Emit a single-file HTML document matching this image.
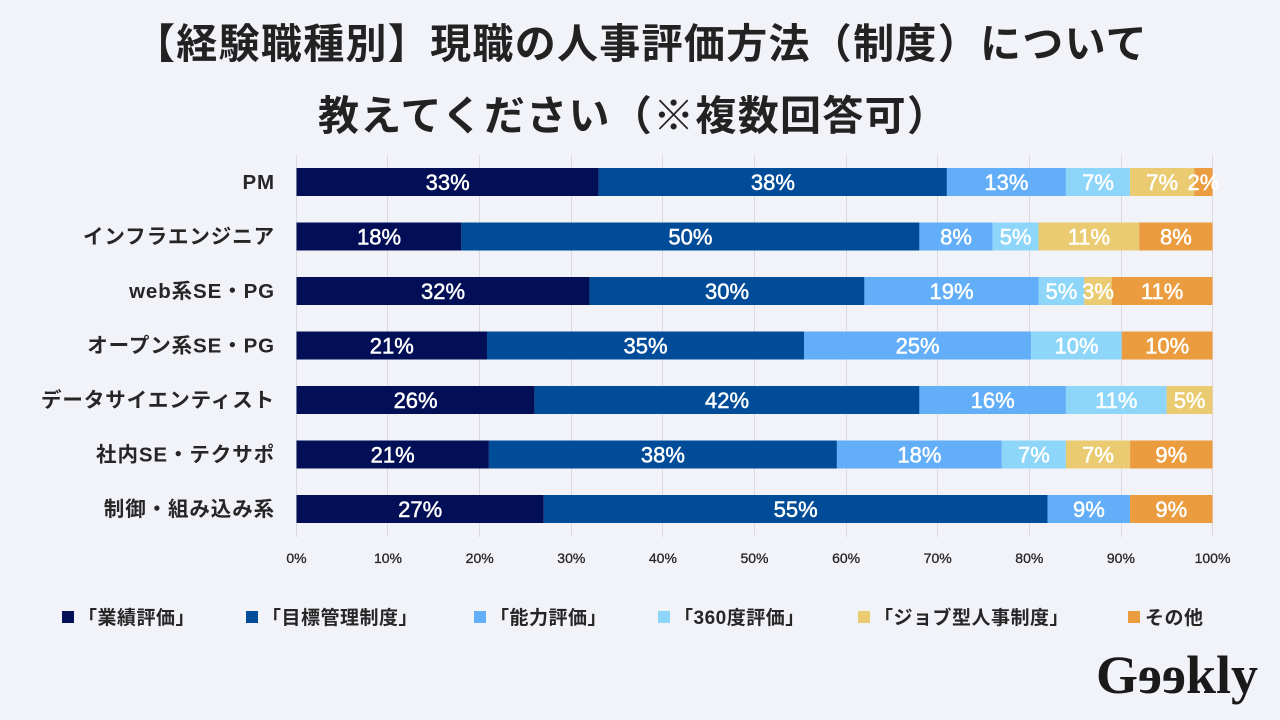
<!DOCTYPE html>
<html lang="ja">
<head>
<meta charset="utf-8">
<style>
  html, body { margin: 0; padding: 0; background: #f2f3f8; }
  body { width: 1280px; height: 720px; overflow: hidden; }
  svg { display: block; }
  .ttl { font-family: "Liberation Sans", "Noto Sans CJK JP", sans-serif; font-weight: 700; font-size: 41px; fill: #222; letter-spacing: 1.3px; }
  .cat { font-family: "Liberation Sans", "Noto Sans CJK JP", sans-serif; font-weight: 700; font-size: 20.5px; fill: #262626; text-anchor: end; letter-spacing: 0.9px; }
  .dl { font-family: "Liberation Sans", "Noto Sans CJK JP", sans-serif; font-size: 22px; fill: #fff; stroke: #fff; stroke-width: 0.5px; text-anchor: middle; }
  .tk { font-family: "Liberation Sans", "Noto Sans CJK JP", sans-serif; font-size: 14px; fill: #262626; stroke: #262626; stroke-width: 0.3px; text-anchor: middle; }
  .lg { font-family: "Liberation Sans", "Noto Sans CJK JP", sans-serif; font-weight: 700; font-size: 19px; fill: #262626; letter-spacing: 0.5px; }
  .logo { font-family: "Liberation Serif", "DejaVu Serif", serif; font-weight: 700; font-size: 54px; fill: #1a1a1a; }
</style>
</head>
<body>
<svg width="1280" height="720" viewBox="0 0 1280 720" xmlns="http://www.w3.org/2000/svg">
  <rect x="0" y="0" width="1280" height="720" fill="#f2f3f8"/>

  <!-- Title -->
  <text class="ttl" x="134" y="58">【経験職種別】現職の人事評価方法（制度）について</text>
  <text class="ttl" x="318" y="130">教えてください（※複数回答可）</text>

  <!-- Gridlines -->
  <g stroke="#d9d9de" stroke-width="1">
    <line x1="296.5" y1="155" x2="296.5" y2="537"/>
    <line x1="387.5" y1="155" x2="387.5" y2="537"/>
    <line x1="479.5" y1="155" x2="479.5" y2="537"/>
    <line x1="571.5" y1="155" x2="571.5" y2="537"/>
    <line x1="662.5" y1="155" x2="662.5" y2="537"/>
    <line x1="754.5" y1="155" x2="754.5" y2="537"/>
    <line x1="846.5" y1="155" x2="846.5" y2="537"/>
    <line x1="937.5" y1="155" x2="937.5" y2="537"/>
    <line x1="1029.5" y1="155" x2="1029.5" y2="537"/>
    <line x1="1121.5" y1="155" x2="1121.5" y2="537"/>
    <line x1="1212.5" y1="155" x2="1212.5" y2="537"/>
  </g>

  <!-- Row 1: PM -->
  <g>
    <rect x="296.5" y="168" width="302.3" height="28" fill="#020f57"/>
    <rect x="598.8" y="168" width="348.1" height="28" fill="#004c98"/>
    <rect x="946.9" y="168" width="119" height="28" fill="#63aef8"/>
    <rect x="1065.9" y="168" width="64.2" height="28" fill="#8ed6f9"/>
    <rect x="1130.1" y="168" width="64.1" height="28" fill="#ebcb71"/>
    <rect x="1194.2" y="168" width="18.3" height="28" fill="#ea9c3f"/>
    <text class="dl" x="447.7" y="190">33%</text>
    <text class="dl" x="772.9" y="190">38%</text>
    <text class="dl" x="1006.4" y="190">13%</text>
    <text class="dl" x="1098" y="190">7%</text>
    <text class="dl" x="1162.2" y="190">7%</text>
    <text class="dl" x="1203.4" y="190">2%</text>
  </g>

  <!-- Row 2 -->
  <g>
    <rect x="296.5" y="222.5" width="164.9" height="28" fill="#020f57"/>
    <rect x="461.4" y="222.5" width="458" height="28" fill="#004c98"/>
    <rect x="919.4" y="222.5" width="73.3" height="28" fill="#63aef8"/>
    <rect x="992.7" y="222.5" width="45.8" height="28" fill="#8ed6f9"/>
    <rect x="1038.5" y="222.5" width="100.7" height="28" fill="#ebcb71"/>
    <rect x="1139.2" y="222.5" width="73.3" height="28" fill="#ea9c3f"/>
    <text class="dl" x="379" y="244.5">18%</text>
    <text class="dl" x="690.4" y="244.5">50%</text>
    <text class="dl" x="956" y="244.5">8%</text>
    <text class="dl" x="1015.6" y="244.5">5%</text>
    <text class="dl" x="1088.9" y="244.5">11%</text>
    <text class="dl" x="1175.9" y="244.5">8%</text>
  </g>

  <!-- Row 3 -->
  <g>
    <rect x="296.5" y="277" width="293.1" height="28" fill="#020f57"/>
    <rect x="589.6" y="277" width="274.8" height="28" fill="#004c98"/>
    <rect x="864.4" y="277" width="174.1" height="28" fill="#63aef8"/>
    <rect x="1038.5" y="277" width="45.8" height="28" fill="#8ed6f9"/>
    <rect x="1084.3" y="277" width="27.4" height="28" fill="#ebcb71"/>
    <rect x="1111.7" y="277" width="100.8" height="28" fill="#ea9c3f"/>
    <text class="dl" x="443" y="299">32%</text>
    <text class="dl" x="727" y="299">30%</text>
    <text class="dl" x="951.5" y="299">19%</text>
    <text class="dl" x="1061.4" y="299">5%</text>
    <text class="dl" x="1098" y="299">3%</text>
    <text class="dl" x="1162.1" y="299">11%</text>
  </g>

  <!-- Row 4 -->
  <g>
    <rect x="296.5" y="331.5" width="190.5" height="28" fill="#020f57"/>
    <rect x="487" y="331.5" width="317" height="28" fill="#004c98"/>
    <rect x="804" y="331.5" width="227.1" height="28" fill="#63aef8"/>
    <rect x="1031.1" y="331.5" width="90.7" height="28" fill="#8ed6f9"/>
    <rect x="1121.8" y="331.5" width="90.7" height="28" fill="#ea9c3f"/>
    <text class="dl" x="391.8" y="353.5">21%</text>
    <text class="dl" x="645.5" y="353.5">35%</text>
    <text class="dl" x="917.6" y="353.5">25%</text>
    <text class="dl" x="1076.5" y="353.5">10%</text>
    <text class="dl" x="1167.2" y="353.5">10%</text>
  </g>

  <!-- Row 5 -->
  <g>
    <rect x="296.5" y="386" width="238.2" height="28" fill="#020f57"/>
    <rect x="534.7" y="386" width="384.7" height="28" fill="#004c98"/>
    <rect x="919.4" y="386" width="146.5" height="28" fill="#63aef8"/>
    <rect x="1065.9" y="386" width="100.8" height="28" fill="#8ed6f9"/>
    <rect x="1166.7" y="386" width="45.8" height="28" fill="#ebcb71"/>
    <text class="dl" x="415.6" y="408">26%</text>
    <text class="dl" x="727" y="408">42%</text>
    <text class="dl" x="992.7" y="408">16%</text>
    <text class="dl" x="1116.3" y="408">11%</text>
    <text class="dl" x="1189.6" y="408">5%</text>
  </g>

  <!-- Row 6 -->
  <g>
    <rect x="296.5" y="440.5" width="192.4" height="28" fill="#020f57"/>
    <rect x="488.9" y="440.5" width="348" height="28" fill="#004c98"/>
    <rect x="836.9" y="440.5" width="164.9" height="28" fill="#63aef8"/>
    <rect x="1001.8" y="440.5" width="64.1" height="28" fill="#8ed6f9"/>
    <rect x="1065.9" y="440.5" width="64.2" height="28" fill="#ebcb71"/>
    <rect x="1130.1" y="440.5" width="82.4" height="28" fill="#ea9c3f"/>
    <text class="dl" x="392.7" y="462.5">21%</text>
    <text class="dl" x="662.9" y="462.5">38%</text>
    <text class="dl" x="919.4" y="462.5">18%</text>
    <text class="dl" x="1033.9" y="462.5">7%</text>
    <text class="dl" x="1098" y="462.5">7%</text>
    <text class="dl" x="1171.3" y="462.5">9%</text>
  </g>

  <!-- Row 7 -->
  <g>
    <rect x="296.5" y="495" width="247.3" height="28" fill="#020f57"/>
    <rect x="543.8" y="495" width="503.8" height="28" fill="#004c98"/>
    <rect x="1047.6" y="495" width="82.5" height="28" fill="#63aef8"/>
    <rect x="1130.1" y="495" width="82.4" height="28" fill="#ea9c3f"/>
    <text class="dl" x="420.2" y="517">27%</text>
    <text class="dl" x="795.7" y="517">55%</text>
    <text class="dl" x="1088.9" y="517">9%</text>
    <text class="dl" x="1171.3" y="517">9%</text>
  </g>

  <!-- Category labels -->
  <text class="cat" x="275" y="189">PM</text>
  <text class="cat" x="275" y="243.5">インフラエンジニア</text>
  <text class="cat" x="275" y="298">web系SE・PG</text>
  <text class="cat" x="275" y="352.5">オープン系SE・PG</text>
  <text class="cat" x="275" y="407">データサイエンティスト</text>
  <text class="cat" x="275" y="461.5">社内SE・テクサポ</text>
  <text class="cat" x="275" y="516">制御・組み込み系</text>

  <!-- Tick labels -->
  <text class="tk" x="296.5" y="563">0%</text>
  <text class="tk" x="388" y="563">10%</text>
  <text class="tk" x="479.7" y="563">20%</text>
  <text class="tk" x="571.3" y="563">30%</text>
  <text class="tk" x="662.9" y="563">40%</text>
  <text class="tk" x="754.5" y="563">50%</text>
  <text class="tk" x="846.1" y="563">60%</text>
  <text class="tk" x="937.7" y="563">70%</text>
  <text class="tk" x="1029.3" y="563">80%</text>
  <text class="tk" x="1120.9" y="563">90%</text>
  <text class="tk" x="1212.5" y="563">100%</text>

  <!-- Legend -->
  <rect x="62" y="611" width="12" height="12" fill="#020f57"/>
  <text class="lg" x="78" y="624">「業績評価」</text>
  <rect x="246" y="611" width="12" height="12" fill="#004c98"/>
  <text class="lg" x="262" y="624">「目標管理制度」</text>
  <rect x="474" y="611" width="12" height="12" fill="#63aef8"/>
  <text class="lg" x="490" y="624">「能力評価」</text>
  <rect x="658" y="611" width="12" height="12" fill="#8ed6f9"/>
  <text class="lg" x="674" y="624">「360度評価」</text>
  <rect x="858" y="611" width="12" height="12" fill="#ebcb71"/>
  <text class="lg" x="874" y="624">「ジョブ型人事制度」</text>
  <rect x="1128" y="611" width="12" height="12" fill="#ea9c3f"/>
  <text class="lg" x="1145" y="624">その他</text>

  <!-- Logo -->
  <text class="logo" x="1096" y="693">G</text>
  <g transform="translate(1162,693) scale(-1,1)"><text class="logo" x="0" y="0">e</text></g>
  <g transform="translate(1186,693) scale(-1,1)"><text class="logo" x="0" y="0">e</text></g>
  <text class="logo" x="1186" y="693">kly</text>
</svg>
</body>
</html>
